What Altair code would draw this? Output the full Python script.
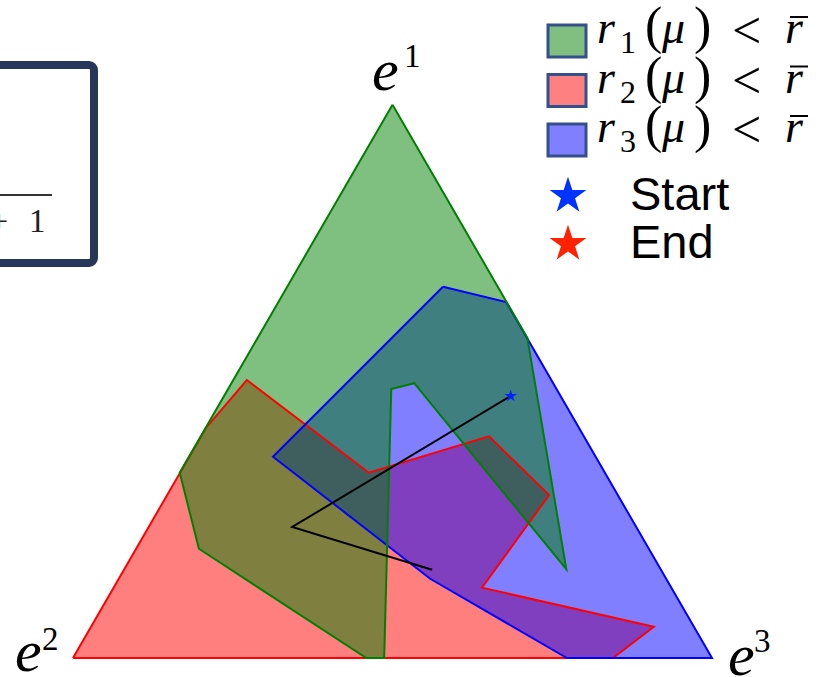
import altair as alt
import pandas as pd

# Regions of the probability simplex, in plane coordinates:
# e2 = (0, 0), e3 = (1, 0), e1 = (0.5, sqrt(3)/2)
green_x = [0.500, 0.711, 0.772, 0.534, 0.498, 0.487, 0.459, 0.197, 0.167]
green_y = [0.866, 0.501, 0.139, 0.430, 0.421, 0.000, 0.000, 0.171, 0.290]

red_x = [0.000, 0.208, 0.272, 0.463, 0.651, 0.745, 0.640, 0.909, 0.845]
red_y = [0.000, 0.360, 0.435, 0.290, 0.347, 0.255, 0.110, 0.049, 0.000]

blue_x = [0.579, 0.678, 1.000, 0.773, 0.559, 0.313]
blue_y = [0.581, 0.557, 0.000, 0.000, 0.124, 0.315]

# Trajectory of mu, from start to end
path_x = [0.685, 0.343, 0.562]
path_y = [0.410, 0.205, 0.138]

region_names = ["1", "2", "3"]
marker_labels = ["Start", "End"]
vertex_names = ["1", "2", "3"]

W, H = 827, 677
UNIT = 639          # pixels per unit of the simplex plane
OX, OY = 73, 658    # pixel position of e2

xscale = alt.Scale(domain=[-OX / UNIT, (W - OX) / UNIT], nice=False, zero=False)
yscale = alt.Scale(domain=[-(H - OY) / UNIT, OY / UNIT], nice=False, zero=False)

STAR = ("M0,-1L0.2245,-0.309L0.9511,-0.309L0.3633,0.118L0.5878,0.809L0,0.382"
        "L-0.5878,0.809L-0.3633,0.118L-0.9511,-0.309L-0.2245,-0.309Z")

GREEN, RED, BLUE = "#008000", "#ff0000", "#0000ff"


def ring(xs, ys):
    return pd.DataFrame({"x": xs + xs[:1], "y": ys + ys[:1],
                         "i": list(range(len(xs) + 1))})


def xy_enc():
    return dict(
        x=alt.X("x:Q", scale=xscale, axis=None),
        y=alt.Y("y:Q", scale=yscale, axis=None),
        order="i:Q",
    )


def region_fill(xs, ys, color):
    return alt.Chart(ring(xs, ys)).mark_line(
        fill=color, fillOpacity=0.5, strokeOpacity=0, strokeWidth=0
    ).encode(**xy_enc())


def region_edge(xs, ys, color):
    return alt.Chart(ring(xs, ys)).mark_line(
        color=color, strokeWidth=2, strokeJoin="miter"
    ).encode(**xy_enc())


def one_row():
    return alt.Chart(pd.DataFrame({"k": [0]}))


def text_at(txt, x, y, size, font="Liberation Serif", style="normal",
            align="left", color="black"):
    return alt.Chart(pd.DataFrame({"t": [txt]})).mark_text(
        align=align, baseline="alphabetic", font=font, fontSize=size,
        fontStyle=style, color=color
    ).encode(text="t:N", x=alt.value(x), y=alt.value(y))


regions = [(red_x, red_y, RED), (blue_x, blue_y, BLUE), (green_x, green_y, GREEN)]
layers = [region_fill(*r) for r in regions] + [region_edge(*r) for r in regions]

path_df = pd.DataFrame({"x": path_x, "y": path_y, "i": list(range(len(path_x)))})
layers.append(
    alt.Chart(path_df).mark_line(color="black", strokeWidth=2).encode(**xy_enc())
)
layers.append(
    alt.Chart(path_df.iloc[:1]).mark_point(
        shape=STAR, filled=True, size=170, color="#0022ff", opacity=1
    ).encode(
        x=alt.X("x:Q", scale=xscale, axis=None),
        y=alt.Y("y:Q", scale=yscale, axis=None),
    )
)

# Vertex labels e^1, e^2, e^3
vertex_pos = [(372, 90, 404, 67), (15, 671, 42, 650), (728, 675, 754, 652)]
for name, (ex, ey, sx, sy) in zip(vertex_names, vertex_pos):
    layers.append(text_at("e", ex, ey, 60, style="italic"))
    layers.append(text_at(name, sx, sy, 33))

# Legend: region patches with math labels
fills = ["#80bf80", "#ff8080", "#8080ff"]
for i, (name, fc) in enumerate(zip(region_names, fills)):
    cy = 41 + 49.5 * i
    b = 43 + 49.5 * i
    layers.append(one_row().mark_rect(
        fill=fc, stroke="#34508c", strokeWidth=3
    ).encode(x=alt.value(548), x2=alt.value(586),
             y=alt.value(cy - 16), y2=alt.value(cy + 16)))
    layers.append(text_at("r", 597, b, 46, style="italic"))
    layers.append(text_at(name, 620, b + 10, 32))
    layers.append(text_at("(", 645, b, 52))
    layers.append(text_at("μ", 662, b, 46, style="italic"))
    layers.append(text_at(")", 694, b, 52))
    layers.append(text_at("<", 732, b + 5, 52))
    layers.append(text_at("r", 785, b, 46, style="italic"))
    layers.append(one_row().mark_rule(color="black", strokeWidth=2).encode(
        x=alt.value(790), x2=alt.value(808),
        y=alt.value(b - 26)))

# Legend: start / end markers
star_colors = ["#0033ff", "#ff2200"]
for i, (lab, sc) in enumerate(zip(marker_labels, star_colors)):
    cy = 196 + 48 * i
    layers.append(one_row().mark_point(
        shape=STAR, filled=True, size=1500, color=sc, opacity=1
    ).encode(x=alt.value(568), y=alt.value(cy)))
    layers.append(text_at(lab, 630, 210 + 48 * i, 47, font="Liberation Sans"))

# Framed formula fragment at the upper left
layers.append(one_row().mark_rect(
    fill="white", stroke="#27375a", strokeWidth=8, cornerRadius=5
).encode(x=alt.value(-30), x2=alt.value(94), y=alt.value(65), y2=alt.value(263)))
layers.append(one_row().mark_rule(color="#333333", strokeWidth=2).encode(
    x=alt.value(0), x2=alt.value(52), y=alt.value(195)))
layers.append(text_at("+", 8, 232, 32, align="right", color="#222222"))
layers.append(text_at("1", 29, 232, 33, color="#222222"))

chart = alt.layer(*layers).properties(
    width=W, height=H, padding=0,
    autosize=alt.AutoSizeParams(type="none"),
).configure_view(stroke=None)

chart.save("out.html", embed_options={"renderer": "svg", "actions": False})
